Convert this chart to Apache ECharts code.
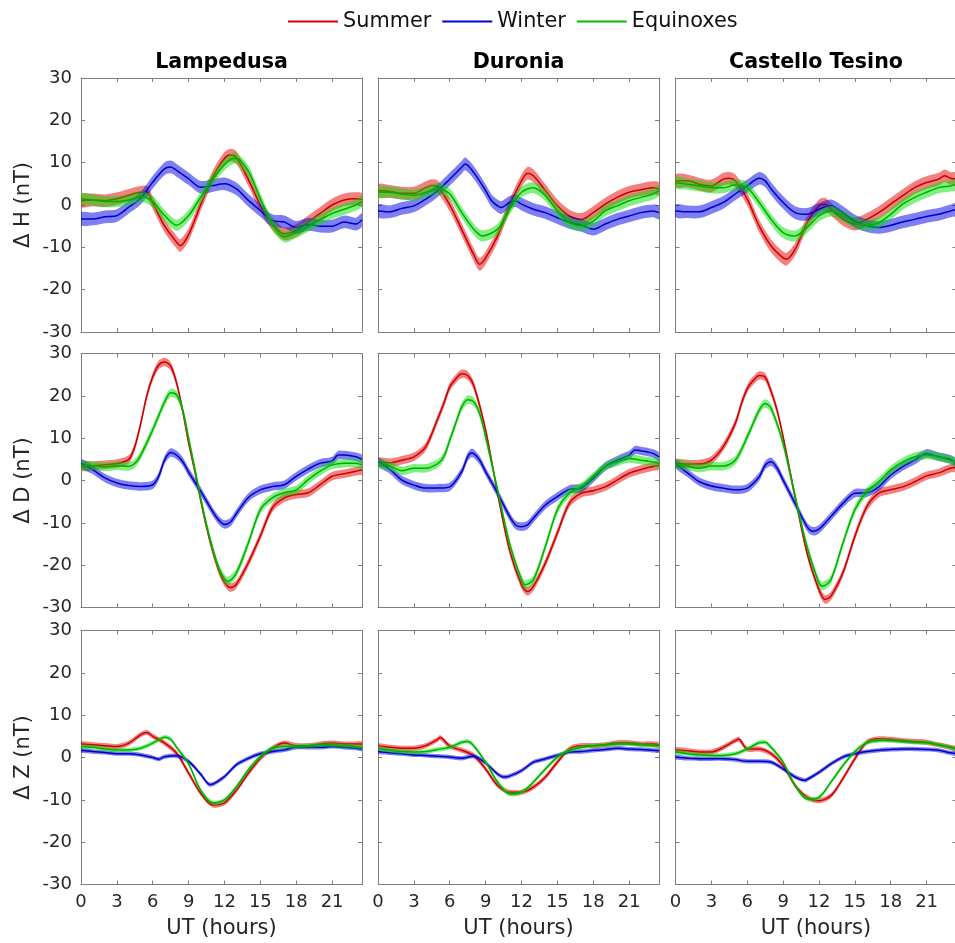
<!DOCTYPE html>
<html><head><meta charset="utf-8">
<script src="https://cdn.jsdelivr.net/npm/echarts@6/dist/echarts.min.js"></script>
<style>html,body{margin:0;padding:0;background:#fff}#c{width:955px;height:943px}</style>
</head><body><div id="c"></div><script>
// ---- labels ----
const STATIONS = ['Lampedusa', 'Duronia', 'Castello Tesino'];
const COMPONENTS = ['\u0394 H (nT)', '\u0394 D (nT)', '\u0394 Z (nT)'];
const SEASONS = ['Summer', 'Winter', 'Equinoxes'];
const X_NAME = 'UT (hours)';
const X_TICKS = [0, 3, 6, 9, 12, 15, 18, 21];
const Y_TICKS = [-30, -20, -10, 0, 10, 20, 30];

// ---- data: [UT hour, value nT] ----
// Lampedusa H
const LAMP_H_SUM = [[0,1.0],[1,1.2],[2,1.0],[3,1.5],[4,2.3],[5,3.0],[5.5,3.0],[6,0.5],[7,-5.0],[8,-8.8],[8.3,-9.6],[9,-7.0],[10,0.0],[11,6.5],[12,11.0],[12.5,11.8],[13,11.2],[14,6.0],[15,0.0],[16,-4.5],[17,-6.8],[18,-6.0],[19,-4.0],[20,-2.0],[21,0.0],[22,1.2],[23,1.5],[23.5,1.3]];
const LAMP_H_WIN = [[0,-3.3],[1,-3.3],[2,-2.8],[3,-2.5],[4,-0.5],[5,1.6],[6,5.4],[7,8.6],[7.5,9.0],[8,8.2],[9,6.2],[10,4.2],[11,4.6],[12,5.0],[13,3.8],[14,1.1],[15,-1.3],[16,-3.7],[17,-4.0],[18,-5.3],[19,-4.6],[20,-5.0],[21,-5.0],[22,-4.0],[23,-4.5],[23.5,-3.5]];
const LAMP_H_EQX = [[0,1.5],[1,1.2],[2,0.8],[3,0.8],[4,1.2],[5,2.0],[6,0.8],[7,-2.5],[8,-4.8],[9,-2.5],[10,1.8],[11,6.0],[12,9.5],[12.7,11.0],[13,11.0],[14,8.0],[15,1.5],[16,-4.5],[17,-7.5],[18,-6.5],[19,-5.0],[20,-3.5],[21,-2.0],[22,-1.0],[23,0.0],[23.5,0.8]];
// Lampedusa D
const LAMP_D_SUM = [[0,3.3],[1,3.5],[2,3.7],[3,4.0],[4,5.0],[4.5,8.0],[5,13.5],[5.5,20.0],[6,24.5],[6.5,27.3],[7,28.0],[7.5,27.0],[8,23.0],[8.5,16.5],[9,9.0],[9.5,2.5],[10,-4.5],[10.5,-11.0],[11,-16.5],[11.5,-21.0],[12,-24.0],[12.5,-25.3],[13,-24.5],[14,-19.4],[15,-13.1],[16,-6.5],[17,-4.1],[18,-3.3],[19,-2.9],[20,-1.0],[21,1.0],[22,1.6],[23,2.2],[23.5,2.5]];
const LAMP_D_WIN = [[0,4.1],[1,2.5],[2,0.6],[3,-0.6],[4,-1.2],[5,-1.4],[6,-1.0],[6.5,1.0],[7,4.9],[7.5,6.6],[8,6.0],[8.5,4.5],[9,2.0],[10,-2.5],[11,-7.3],[11.5,-9.3],[12,-10.4],[12.5,-9.8],[13,-7.8],[14,-4.0],[15,-2.2],[16,-1.4],[17,-1.0],[18,1.0],[19,2.7],[20,4.1],[21,4.6],[21.5,6.0],[22,6.0],[23,5.6],[23.5,5.0]];
const LAMP_D_EQX = [[0,3.5],[1,3.5],[2,3.2],[3,3.5],[4,3.3],[4.5,4.0],[5,6.0],[6,12.0],[7,18.6],[7.5,20.7],[8,20.2],[8.5,16.7],[9,10.0],[9.5,3.0],[10,-4.0],[10.5,-10.5],[11,-16.0],[11.5,-20.5],[12,-23.2],[12.3,-23.8],[13,-21.8],[14,-14.7],[15,-6.9],[16,-4.1],[17,-2.9],[18,-2.2],[19,0.2],[20,2.2],[21,3.7],[22,4.1],[23,4.1],[23.5,3.7]];
// Lampedusa Z
const LAMP_Z_SUM = [[0,3.2],[1,3.0],[2,2.8],[3,2.6],[4,3.4],[5,5.4],[5.5,5.9],[6,5.0],[7,3.4],[8,1.0],[9,-3.7],[10,-8.4],[11,-11.2],[12,-10.7],[13,-7.7],[14,-3.7],[15,-0.2],[16,2.2],[17,3.4],[18,2.8],[19,2.8],[20,3.2],[21,3.4],[22,3.2],[23,3.2],[23.5,3.2]];
const LAMP_Z_WIN = [[0,1.7],[1,1.4],[2,1.2],[3,0.9],[4,0.9],[5,0.6],[6,0.0],[6.5,-0.4],[7,0.2],[8,0.4],[9,-0.9],[10,-3.9],[10.8,-6.4],[12,-4.5],[13,-1.7],[14,-0.2],[15,0.9],[16,1.4],[17,1.8],[18,2.4],[19,2.4],[20,2.4],[21,2.6],[22,2.4],[23,2.2],[23.5,2.0]];
const LAMP_Z_EQX = [[0,2.6],[1,2.4],[2,2.0],[3,1.8],[4,1.8],[5,2.2],[6,3.4],[7,4.8],[7.5,4.3],[8,2.4],[9,-1.5],[10,-7.7],[11,-10.7],[12,-10.0],[13,-6.9],[14,-2.9],[15,0.2],[16,2.2],[17,2.6],[18,2.6],[19,2.8],[20,3.0],[21,3.0],[22,2.8],[23,2.6],[23.5,2.4]];
// Duronia H
const DUR_H_SUM = [[0,3.4],[1,3.2],[2,2.8],[3,2.8],[4,4.1],[4.5,4.6],[5,4.3],[6,0.0],[7,-5.8],[8,-11.7],[8.5,-14.0],[9,-12.5],[10,-7.3],[11,-0.2],[12,5.7],[12.5,7.5],[13,6.9],[14,3.4],[15,-0.2],[16,-2.6],[17,-3.4],[18,-1.8],[19,0.2],[20,1.8],[21,3.0],[22,3.6],[23,4.1],[23.5,3.8]];
const DUR_H_WIN = [[0,-1.4],[1,-1.6],[2,-0.8],[3,-0.2],[4,1.4],[5,3.4],[6,6.1],[7,8.9],[7.3,9.7],[8,7.7],[9,3.4],[9.5,1.0],[10,-0.2],[10.3,-0.6],[11,0.6],[11.5,1.0],[12,0.2],[13,-1.0],[14,-1.8],[15,-3.0],[16,-4.1],[17,-4.8],[18,-5.7],[19,-4.5],[20,-3.4],[21,-2.6],[22,-1.8],[23,-1.4],[23.5,-1.8]];
const DUR_H_EQX = [[0,3.1],[1,3.0],[2,2.6],[3,2.3],[4,3.0],[5,3.9],[6,2.6],[7,-1.8],[8,-5.7],[8.7,-7.3],[10,-5.7],[11,-1.0],[12,3.0],[13,4.1],[14,2.2],[15,-1.4],[16,-4.1],[17,-4.9],[18,-3.8],[19,-1.4],[20,-0.2],[21,1.0],[22,1.8],[23,2.6],[23.5,3.4]];
// Duronia D
const DUR_D_SUM = [[0,4.4],[1,4.2],[2,4.8],[3,5.6],[4,8.0],[5,14.6],[5.5,18.2],[6,22.1],[6.5,24.0],[7,25.2],[7.5,24.8],[8,22.5],[9,11.9],[10,-3.0],[11,-16.4],[12,-24.6],[12.5,-26.2],[13,-25.0],[14,-19.5],[15,-12.4],[16,-5.4],[17,-3.0],[18,-2.4],[19,-1.5],[20,0.1],[21,1.7],[22,2.6],[23,3.3],[23.5,3.6]];
const DUR_D_WIN = [[0,4.4],[1,2.6],[2,0.1],[3,-1.1],[4,-1.8],[5,-1.8],[6,-1.5],[7,2.1],[7.5,5.6],[7.8,6.5],[8,6.4],[8.5,4.8],[9,2.1],[10,-3.0],[11,-8.5],[11.5,-10.5],[12,-10.9],[12.5,-10.5],[13,-8.9],[14,-5.8],[15,-3.8],[16,-2.1],[17,-1.8],[18,0.5],[19,3.3],[20,4.8],[21,6.0],[21.5,7.2],[22,7.0],[23,6.4],[23.5,5.6]];
const DUR_D_EQX = [[0,4.0],[1,3.4],[2,2.3],[3,2.9],[4,2.9],[5,4.0],[5.5,5.6],[6,9.5],[6.5,13.5],[7,17.4],[7.5,19.1],[8,18.6],[8.5,15.8],[9,10.3],[10,-2.2],[11,-14.8],[12,-23.4],[12.3,-24.6],[13,-23.4],[14,-15.6],[15,-6.9],[16,-3.0],[17,-1.5],[18,0.9],[19,3.3],[20,4.4],[21,5.2],[22,4.8],[23,4.4],[23.5,4.0]];
// Duronia Z
const DUR_Z_SUM = [[0,2.7],[1,2.4],[2,2.2],[3,2.2],[4,2.8],[5,4.3],[5.2,4.7],[6,2.7],[7,1.7],[8,0.5],[9,-2.7],[10,-6.6],[11,-8.2],[12,-8.2],[13,-7.0],[14,-4.6],[15,-1.1],[16,2.0],[17,2.8],[18,2.8],[19,3.0],[20,3.5],[21,3.5],[22,3.2],[23,3.2],[23.5,3.0]];
const DUR_Z_WIN = [[0,1.4],[1,1.1],[2,0.9],[3,0.6],[4,0.5],[5,0.3],[6,0.1],[7,-0.2],[8,0.3],[9,-1.3],[10,-3.9],[10.5,-4.6],[11,-4.4],[12,-3.1],[13,-1.1],[14,-0.3],[15,0.5],[16,1.3],[17,1.4],[18,1.7],[19,1.9],[20,2.2],[21,2.0],[22,1.9],[23,1.7],[23.5,1.6]];
const DUR_Z_EQX = [[0,2.2],[1,1.7],[2,1.4],[3,1.3],[4,1.4],[5,1.9],[6,2.4],[7,3.6],[7.5,3.8],[8,2.8],[9,-1.1],[10,-5.8],[11,-8.6],[12,-8.2],[13,-5.8],[14,-2.7],[15,0.1],[16,1.7],[17,2.4],[18,2.8],[19,3.0],[20,3.2],[21,3.2],[22,3.0],[23,2.8],[23.5,2.7]];
// Castello Tesino H
const CAST_H_SUM = [[0,5.7],[1,5.7],[2,4.9],[3,4.5],[4,6.1],[4.5,6.3],[5,5.7],[6,1.4],[7,-5.0],[8,-9.7],[9,-12.5],[9.3,-12.8],[10,-10.5],[11,-4.2],[12,-0.2],[12.5,0.2],[13,-1.0],[14,-3.4],[15,-4.5],[16,-3.4],[17,-1.8],[18,0.2],[19,2.2],[20,4.1],[21,5.3],[22,6.1],[22.5,6.9],[23,6.3],[23.5,6.1]];
const CAST_H_WIN = [[0,-1.4],[1,-1.6],[2,-1.6],[3,-0.6],[4,0.6],[5,2.6],[6,4.5],[7,6.3],[7.5,5.7],[8,3.8],[9,0.6],[10,-1.8],[11,-2.2],[12,-1.0],[13,-0.2],[14,-1.8],[15,-3.8],[16,-4.9],[17,-5.3],[18,-4.8],[19,-4.0],[20,-3.4],[21,-2.7],[22,-2.2],[23,-1.4],[23.5,-1.0]];
const CAST_H_EQX = [[0,5.3],[1,4.9],[2,4.5],[3,4.1],[4,4.1],[5,4.7],[6,4.1],[7,0.6],[8,-3.4],[9,-6.5],[10,-7.3],[11,-5.3],[12,-2.6],[13,-1.4],[14,-2.6],[15,-4.2],[16,-4.8],[17,-4.2],[18,-2.2],[19,0.2],[20,1.8],[21,3.0],[22,4.1],[23,4.5],[23.5,4.9]];
// Castello Tesino D
const CAST_D_SUM = [[0,4.0],[1,3.9],[2,3.9],[3,4.8],[4,8.0],[5,13.5],[5.5,18.0],[6,21.7],[6.5,23.6],[7,24.8],[7.5,24.4],[8,21.0],[8.5,16.5],[9,10.3],[10,-3.8],[11,-17.1],[12,-25.8],[12.5,-28.1],[13,-27.3],[14,-21.8],[15,-13.2],[16,-6.2],[17,-3.0],[18,-2.2],[19,-1.5],[20,-0.3],[21,1.1],[22,1.8],[23,2.9],[23.5,3.1]];
const CAST_D_WIN = [[0,4.0],[1,1.8],[2,-0.3],[3,-1.3],[4,-1.8],[5,-2.2],[6,-1.8],[7,0.9],[7.5,3.6],[8,4.4],[8.5,2.9],[9,0.1],[10,-5.4],[11,-10.9],[11.5,-12.0],[12,-11.5],[13,-8.5],[14,-5.4],[15,-3.0],[16,-2.9],[17,-1.5],[18,1.3],[19,3.3],[20,4.8],[21,6.4],[22,5.6],[23,5.0],[23.5,4.0]];
const CAST_D_EQX = [[0,3.9],[1,3.4],[2,2.9],[3,3.4],[4,3.4],[5,4.8],[6,10.3],[7,16.6],[7.5,18.2],[8,17.0],[9,8.7],[10,-3.8],[11,-15.6],[12,-24.2],[12.3,-25.0],[13,-23.4],[14,-14.8],[15,-6.9],[16,-2.6],[17,-0.3],[18,2.5],[19,4.4],[20,5.6],[21,6.0],[22,5.6],[23,4.8],[23.5,4.2]];
// Castello Tesino Z
const CAST_Z_SUM = [[0,1.8],[1,1.6],[2,1.3],[3,1.3],[4,2.4],[5,4.0],[5.3,4.3],[6,2.0],[7,2.0],[8,0.9],[9,-1.9],[10,-6.6],[11,-9.4],[12,-10.2],[13,-9.0],[14,-5.0],[15,-0.3],[16,3.6],[17,4.4],[18,4.3],[19,4.0],[20,3.8],[21,3.6],[22,3.0],[23,2.4],[23.5,2.0]];
const CAST_Z_WIN = [[0,0.1],[1,-0.2],[2,-0.3],[3,-0.3],[4,-0.3],[5,-0.5],[6,-0.9],[7,-0.9],[8,-1.1],[9,-2.7],[10,-4.6],[10.8,-5.4],[11,-5.2],[12,-3.5],[13,-1.5],[14,0.1],[15,0.9],[16,1.4],[17,1.7],[18,1.9],[19,2.0],[20,2.0],[21,1.9],[22,1.7],[23,1.1],[23.5,0.9]];
const CAST_Z_EQX = [[0,1.3],[1,0.9],[2,0.6],[3,0.5],[4,0.5],[5,0.9],[6,2.0],[7,3.5],[7.5,3.6],[8,2.4],[9,-1.1],[10,-6.6],[11,-9.8],[12,-9.4],[13,-5.8],[14,-1.9],[15,1.4],[16,3.5],[17,4.0],[18,4.0],[19,3.8],[20,3.6],[21,3.5],[22,3.0],[23,2.4],[23.5,1.9]];

// half-width of the shaded band (nT) per season [Summer, Winter, Equinoxes]
const BAND_H = [1.5, 1.5, 1.3];
const BAND_D = [1.0, 1.0, 1.0];
const BAND_Z = [0.6, 0.5, 0.5];

// ---- assembly ----
const PANELS = [
  [[LAMP_H_SUM, LAMP_H_WIN, LAMP_H_EQX], [DUR_H_SUM, DUR_H_WIN, DUR_H_EQX], [CAST_H_SUM, CAST_H_WIN, CAST_H_EQX]],
  [[LAMP_D_SUM, LAMP_D_WIN, LAMP_D_EQX], [DUR_D_SUM, DUR_D_WIN, DUR_D_EQX], [CAST_D_SUM, CAST_D_WIN, CAST_D_EQX]],
  [[LAMP_Z_SUM, LAMP_Z_WIN, LAMP_Z_EQX], [DUR_Z_SUM, DUR_Z_WIN, DUR_Z_EQX], [CAST_Z_SUM, CAST_Z_WIN, CAST_Z_EQX]]
];
const BANDS = [BAND_H, BAND_D, BAND_Z];

const FONT = 'DejaVu Sans';
const LINE_COLORS = ['#c80000', '#0000c0', '#00b000'];
const LEGEND_COLORS = ['#d40000', '#0000d4', '#00c000'];
const BAND_COLORS = ['rgba(235,0,0,0.5)', 'rgba(0,0,235,0.5)', 'rgba(0,225,0,0.5)'];
const AXIS_COLOR = '#7f7f7f';
const TEXT_COLOR = '#262626';
const COL_LEFT = [81, 378, 675.5];
const ROW_TOP = [78, 353.5, 630.5];
const GW = 281, GH = 254;
const XMIN = 0, XMAX = 23.5;

const grids = [], xAxes = [], yAxes = [], series = [], graphics = [];
for (let r = 0; r < 3; r++) {
  for (let c = 0; c < 3; c++) {
    const g = r * 3 + c;
    grids.push({ left: COL_LEFT[c], top: ROW_TOP[r], width: GW, height: GH, outerBoundsMode: 'none', containLabel: false });
    const common = { gridIndex: g, type: 'value', min: XMIN, max: XMAX, interval: 3, splitLine: { show: false },
      axisLine: { show: true, onZero: false, lineStyle: { color: AXIS_COLOR, width: 1 } },
      axisTick: { show: true, inside: true, length: 4, lineStyle: { color: AXIS_COLOR } } };
    xAxes.push(Object.assign({}, common, { position: 'bottom',
      name: r === 2 ? X_NAME : '', nameLocation: 'middle', nameGap: 34,
      nameTextStyle: { fontFamily: FONT, fontSize: 21, color: TEXT_COLOR },
      axisLabel: { show: r === 2, margin: 9, fontFamily: FONT, fontSize: 18, color: TEXT_COLOR, showMaxLabel: false,
        formatter: v => (X_TICKS.indexOf(v) >= 0 ? String(v) : '') } }));
    xAxes.push(Object.assign({}, common, { position: 'top', axisLabel: { show: false } }));
    const ycommon = { gridIndex: g, type: 'value', min: Y_TICKS[0], max: Y_TICKS[Y_TICKS.length - 1], interval: 10, splitLine: { show: false },
      axisLine: { show: true, onZero: false, lineStyle: { color: AXIS_COLOR, width: 1 } },
      axisTick: { show: true, inside: true, length: 4, lineStyle: { color: AXIS_COLOR } } };
    yAxes.push(Object.assign({}, ycommon, { position: 'left',
      name: c === 0 ? COMPONENTS[r] : '', nameLocation: 'middle', nameGap: 47,
      nameTextStyle: { fontFamily: FONT, fontSize: 21, color: TEXT_COLOR },
      axisLabel: { show: c === 0, margin: 9, fontFamily: FONT, fontSize: 18, color: TEXT_COLOR } }));
    yAxes.push(Object.assign({}, ycommon, { position: 'right', axisLabel: { show: false } }));

    for (let s = 0; s < 3; s++) {
      const arr = PANELS[r][c][s];
      const sd = BANDS[r][s];
      series.push({
        type: 'custom', coordinateSystem: 'cartesian2d', xAxisIndex: 2 * g, yAxisIndex: 2 * g,
        silent: true, clip: true, z: 2 + 2 * s, data: [[XMIN, 0]],
        renderItem: (params, api) => {
          const pts = [];
          for (let i = 0; i < arr.length; i++) pts.push(api.coord([arr[i][0], arr[i][1] + sd]));
          for (let i = arr.length - 1; i >= 0; i--) pts.push(api.coord([arr[i][0], arr[i][1] - sd]));
          return { type: 'polygon', shape: { points: pts, smooth: 0.3 }, style: { fill: BAND_COLORS[s] } };
        }
      });
      series.push({
        type: 'line', name: SEASONS[s], xAxisIndex: 2 * g, yAxisIndex: 2 * g, data: arr,
        symbol: 'none', showSymbol: false, smooth: 0.3, z: 3 + 2 * s, silent: true,
        lineStyle: { color: LINE_COLORS[s], width: 1.5 }, itemStyle: { color: LEGEND_COLORS[s] }
      });
    }
  }
}
for (let c = 0; c < 3; c++) {
  graphics.push({ type: 'text', x: COL_LEFT[c] + GW / 2, y: 63,
    style: { text: STATIONS[c], textAlign: 'center', textVerticalAlign: 'middle',
      font: 'bold 20.6px "DejaVu Sans"', fill: '#000' } });
}

const chart = echarts.init(document.getElementById('c'), null, { renderer: 'canvas' });
chart.setOption({
  animation: false,
  backgroundColor: '#fff',
  textStyle: { fontFamily: FONT },
  legend: { data: SEASONS, left: 288, top: 11, padding: 0, icon: 'rect', itemWidth: 50, itemHeight: 2, itemGap: 11,
    textStyle: { fontFamily: FONT, fontSize: 20.8, color: '#111' }, selectedMode: false },
  grid: grids, xAxis: xAxes, yAxis: yAxes, series: series, graphic: graphics
});
</script></body></html>
